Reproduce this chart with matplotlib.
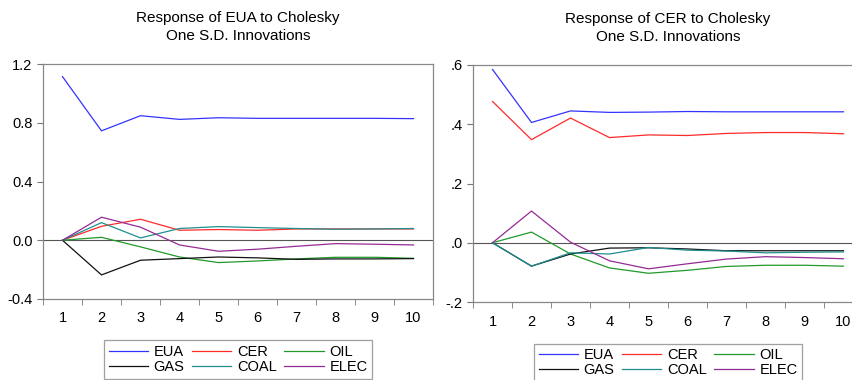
import numpy as np
import matplotlib
matplotlib.use("Agg")
import matplotlib.pyplot as plt
from matplotlib.ticker import FixedLocator, FuncFormatter

plt.rcParams['font.family'] = ['Liberation Sans', 'DejaVu Sans']

periods = np.arange(1, 11)
names = ["EUA", "CER", "OIL", "GAS", "COAL", "ELEC"]
colors = ["#3333ff", "#ff2a2a", "#22992a", "#111111", "#1f8f8f", "#952a95"]

# response of EUA
eua_eua = [1.114, 0.745, 0.848, 0.823, 0.834, 0.830, 0.830, 0.830, 0.830, 0.828]
eua_cer = [0.0, 0.095, 0.143, 0.068, 0.073, 0.068, 0.077, 0.077, 0.077, 0.077]
eua_oil = [0.0, 0.020, -0.045, -0.114, -0.152, -0.141, -0.127, -0.116, -0.116, -0.123]
eua_gas = [0.0, -0.236, -0.136, -0.125, -0.114, -0.120, -0.130, -0.127, -0.127, -0.125]
eua_coal = [0.0, 0.120, 0.016, 0.080, 0.093, 0.086, 0.080, 0.075, 0.077, 0.080]
eua_elec = [0.0, 0.157, 0.089, -0.032, -0.075, -0.061, -0.041, -0.023, -0.027, -0.032]

# response of CER
cer_eua = [0.585, 0.406, 0.445, 0.440, 0.441, 0.443, 0.442, 0.442, 0.442, 0.442]
cer_cer = [0.477, 0.348, 0.421, 0.355, 0.364, 0.362, 0.369, 0.372, 0.372, 0.368]
cer_oil = [0.0, 0.036, -0.038, -0.085, -0.103, -0.093, -0.080, -0.076, -0.076, -0.079]
cer_gas = [0.0, -0.079, -0.038, -0.018, -0.017, -0.021, -0.027, -0.027, -0.027, -0.027]
cer_coal = [0.0, -0.079, -0.034, -0.038, -0.016, -0.025, -0.028, -0.034, -0.032, -0.031]
cer_elec = [0.0, 0.107, 0.002, -0.061, -0.088, -0.071, -0.055, -0.047, -0.050, -0.054]

left_ticks = [-0.4, 0.0, 0.4, 0.8, 1.2]
right_ticks = [-0.2, 0.0, 0.2, 0.4, 0.6]


def fmt_left(v, pos):
    return "%.1f" % v


def fmt_right(v, pos):
    s = "%.1f" % v
    return s.replace("0.", ".")


def panel(ax, series, title, ticks, fmt):
    ax.axhline(0, color="#555555", lw=0.8, zorder=1)
    lines = []
    for ys, c, n in zip(series, colors, names):
        ln, = ax.plot(periods, ys, color=c, lw=0.9, label=n, zorder=2)
        lines.append(ln)
    ax.set_xlim(0.5, 10.5)
    ax.set_ylim(ticks[0], ticks[-1])
    ax.yaxis.set_major_locator(FixedLocator(ticks))
    ax.yaxis.set_major_formatter(FuncFormatter(fmt))
    ax.set_xticks(periods)
    ax.set_xticks(np.arange(0.5, 11, 1), minor=True)
    ax.tick_params(axis="x", which="major", length=0, pad=9, labelsize=10.5)
    ax.tick_params(axis="x", which="minor", length=4, color="#777777")
    ax.tick_params(axis="y", length=4, color="#777777", labelsize=10.5)
    for s in ax.spines.values():
        s.set_color("#888888")
        s.set_linewidth(0.9)
    ax.set_title(title, fontsize=11, linespacing=1.4, pad=17)
    # legend fills column by column, so reorder to read row-wise
    order = [0, 3, 1, 4, 2, 5]
    leg = ax.legend([lines[i] for i in order], [names[i] for i in order],
                    loc="upper center", bbox_to_anchor=(0.5, -0.145), ncol=3,
                    fontsize=10.5, frameon=True, fancybox=False,
                    handlelength=2.7, handletextpad=0.4, columnspacing=0.5,
                    labelspacing=0.1, borderpad=0.3)
    leg.get_frame().set_edgecolor("#888888")
    leg.get_frame().set_linewidth(0.9)


fig = plt.figure(figsize=(8.53, 3.8), dpi=100)
ax1 = fig.add_axes([43 / 853, 1 - 299 / 380, 390 / 853, 235 / 380])
ax2 = fig.add_axes([473 / 853, 1 - 302 / 380, 390 / 853, 237 / 380])

panel(ax1, [eua_eua, eua_cer, eua_oil, eua_gas, eua_coal, eua_elec],
      "Response of EUA to Cholesky\nOne S.D. Innovations", left_ticks, fmt_left)
panel(ax2, [cer_eua, cer_cer, cer_oil, cer_gas, cer_coal, cer_elec],
      "Response of CER to Cholesky\nOne S.D. Innovations", right_ticks, fmt_right)

fig.savefig("out.png", dpi=100)
